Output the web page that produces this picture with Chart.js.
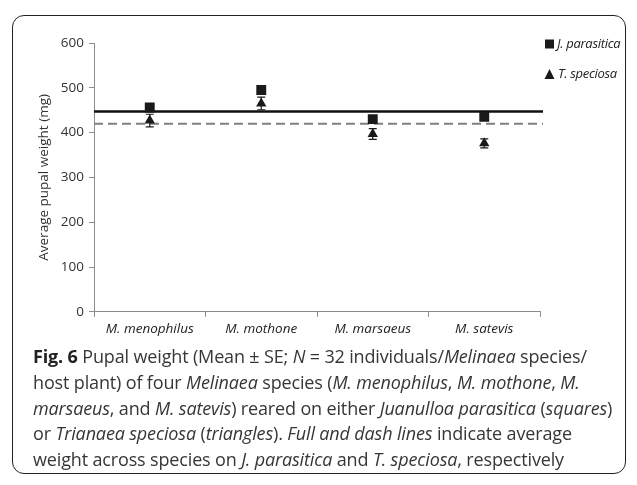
<!DOCTYPE html>
<html>
<head>
<meta charset="utf-8">
<script src="https://cdn.jsdelivr.net/npm/chart.js@4.4.1/dist/chart.umd.min.js"></script>
<style>
  body { margin: 0; background: #fff; width: 637px; height: 485px; overflow: hidden; position: relative; }
  #frame { position: absolute; left: 12px; top: 15px; width: 614px; height: 459px;
           border: 1.5px solid #222; border-radius: 12px; box-sizing: border-box; }
  #wrap { position: absolute; left: 0; top: 0; width: 637px; height: 345px; }
  #caption { position: absolute; left: 33px; top: 344px; font-family: "Open Sans", sans-serif;
             font-size: 18px; line-height: 25.8px; color: #363636; white-space: nowrap; letter-spacing: -0.15px; }
  #caption b { color: #222; }
</style>
</head>
<body>
<div id="frame"></div>
<div id="wrap"><canvas id="pupalChart"></canvas></div>
<div id="caption">
<b>Fig. 6</b> Pupal weight (Mean ± SE; <i>N</i> = 32 individuals/<i>Melinaea</i> species/<br>
host plant) of four <i>Melinaea</i> species (<i>M. menophilus</i>, <i>M. mothone</i>, <i>M.</i><br>
<i>marsaeus</i>, and <i>M. satevis</i>) reared on either <i>Juanulloa parasitica</i> (<i>squares</i>)<br>
or <i>Trianaea speciosa</i> (<i>triangles</i>). <i>Full and dash lines</i> indicate average<br>
weight across species on <i>J. parasitica</i> and <i>T. speciosa</i>, respectively
</div>
<script>
// Chart data
const species = ['M. menophilus', 'M. mothone', 'M. marsaeus', 'M. satevis'];
const parasiticaMean = [456, 495, 430, 435];
const parasiticaSE = [8, 8, 8, 8];
const speciosaMean = [427, 465, 397, 376];
const speciosaSE = [14, 14, 12, 10];
// average across species: J. parasitica (full), T. speciosa (dash)
const averageLines = [447, 420];
const yTicks = [0, 100, 200, 300, 400, 500, 600];

const axisGray = '#8c8c8c';
const tickFont = { family: '"Open Sans", sans-serif', size: 13.5 };

// error bars drawn from the y scale
const errorBars = {
    id: 'errorBars',
    afterDatasetsDraw(chart) {
        const ctx = chart.ctx;
        const y = chart.scales.y;
        const sets = [[parasiticaMean, parasiticaSE], [speciosaMean, speciosaSE]];
        ctx.save();
        ctx.strokeStyle = '#1a1a1a';
        ctx.lineWidth = 1.2;
        sets.forEach(([means, errs], di) => {
            const meta = chart.getDatasetMeta(di);
            meta.data.forEach((pt, i) => {
                const top = y.getPixelForValue(means[i] + errs[i]);
                const bot = y.getPixelForValue(means[i] - errs[i]);
                ctx.beginPath();
                ctx.moveTo(pt.x, top); ctx.lineTo(pt.x, bot);
                ctx.moveTo(pt.x - 4, top); ctx.lineTo(pt.x + 4, top);
                ctx.moveTo(pt.x - 4, bot); ctx.lineTo(pt.x + 4, bot);
                ctx.stroke();
            });
        });
        ctx.restore();
    }
};

// full and dash average lines across the plot
const averageLinesPlugin = {
    id: 'averageLines',
    beforeDatasetsDraw(chart) {
        const ctx = chart.ctx;
        const area = chart.chartArea;
        const y = chart.scales.y;
        ctx.save();
        // dash line (T. speciosa)
        ctx.strokeStyle = '#7f7f7f';
        ctx.lineWidth = 2;
        ctx.setLineDash([9, 5]);
        ctx.beginPath();
        ctx.moveTo(area.left, y.getPixelForValue(averageLines[1]));
        ctx.lineTo(area.right + 3, y.getPixelForValue(averageLines[1]));
        ctx.stroke();
        // full line (J. parasitica)
        ctx.setLineDash([]);
        ctx.strokeStyle = '#111';
        ctx.lineWidth = 2.5;
        ctx.beginPath();
        ctx.moveTo(area.left, y.getPixelForValue(averageLines[0]));
        ctx.lineTo(area.right + 3, y.getPixelForValue(averageLines[0]));
        ctx.stroke();
        ctx.restore();
    }
};

// legend at the top right
const sideLegend = {
    id: 'sideLegend',
    afterDraw(chart) {
        const ctx = chart.ctx;
        const x = 545;
        ctx.save();
        ctx.fillStyle = '#1a1a1a';
        ctx.fillRect(x, 39.5, 9, 9);
        ctx.beginPath();
        ctx.moveTo(x + 4.5, 69); ctx.lineTo(x + 9.5, 79); ctx.lineTo(x - 0.5, 79);
        ctx.closePath();
        ctx.fill();
        ctx.fillStyle = '#222';
        ctx.font = 'italic 13px "Open Sans", sans-serif';
        ctx.letterSpacing = '-0.3px';
        ctx.textBaseline = 'middle';
        ctx.fillText('J. parasitica', x + 12, 44);
        ctx.fillText('T. speciosa', x + 13, 74);
        ctx.restore();
    }
};

const pupalChart = new Chart('pupalChart', {
    type: 'line',
    data: {
        labels: species,
        datasets: [{
            label: 'J. parasitica',
            data: parasiticaMean,
            showLine: false,
            pointStyle: 'rect',
            pointRadius: 7,
            pointHoverRadius: 7,
            backgroundColor: '#1a1a1a',
            borderColor: '#1a1a1a',
            borderWidth: 0
        }, {
            label: 'T. speciosa',
            data: speciosaMean,
            showLine: false,
            pointStyle: 'triangle',
            pointRadius: 6,
            pointHoverRadius: 6,
            backgroundColor: '#1a1a1a',
            borderColor: '#1a1a1a',
            borderWidth: 0
        }]
    },
    options: {
        responsive: true,
        maintainAspectRatio: false,
        animation: false,
        layout: { padding: { left: 36, right: 97, top: 43, bottom: 4 } },
        plugins: { legend: { display: false }, tooltip: { enabled: false } },
        scales: {
            x: {
                offset: true,
                grid: { offset: true, drawOnChartArea: false, tickLength: 5, color: axisGray },
                border: { color: axisGray, width: 1 },
                ticks: { color: '#222', padding: 4, font: { ...tickFont, style: 'italic' } }
            },
            y: {
                min: 0,
                max: 600,
                afterBuildTicks(axis) { axis.ticks = yTicks.map(v => ({ value: v })); },
                afterFit(axis) { axis.width = 58; },
                grid: { drawOnChartArea: false, tickLength: 5, color: axisGray },
                border: { color: axisGray, width: 1 },
                ticks: { color: '#333', padding: 5, font: tickFont },
                title: { display: true, text: 'Average pupal weight (mg)', color: '#333',
                         font: { family: '"Open Sans", sans-serif', size: 13.5 }, padding: 0 }
            }
        }
    },
    plugins: [averageLinesPlugin, errorBars, sideLegend]
});
</script>
</body>
</html>
